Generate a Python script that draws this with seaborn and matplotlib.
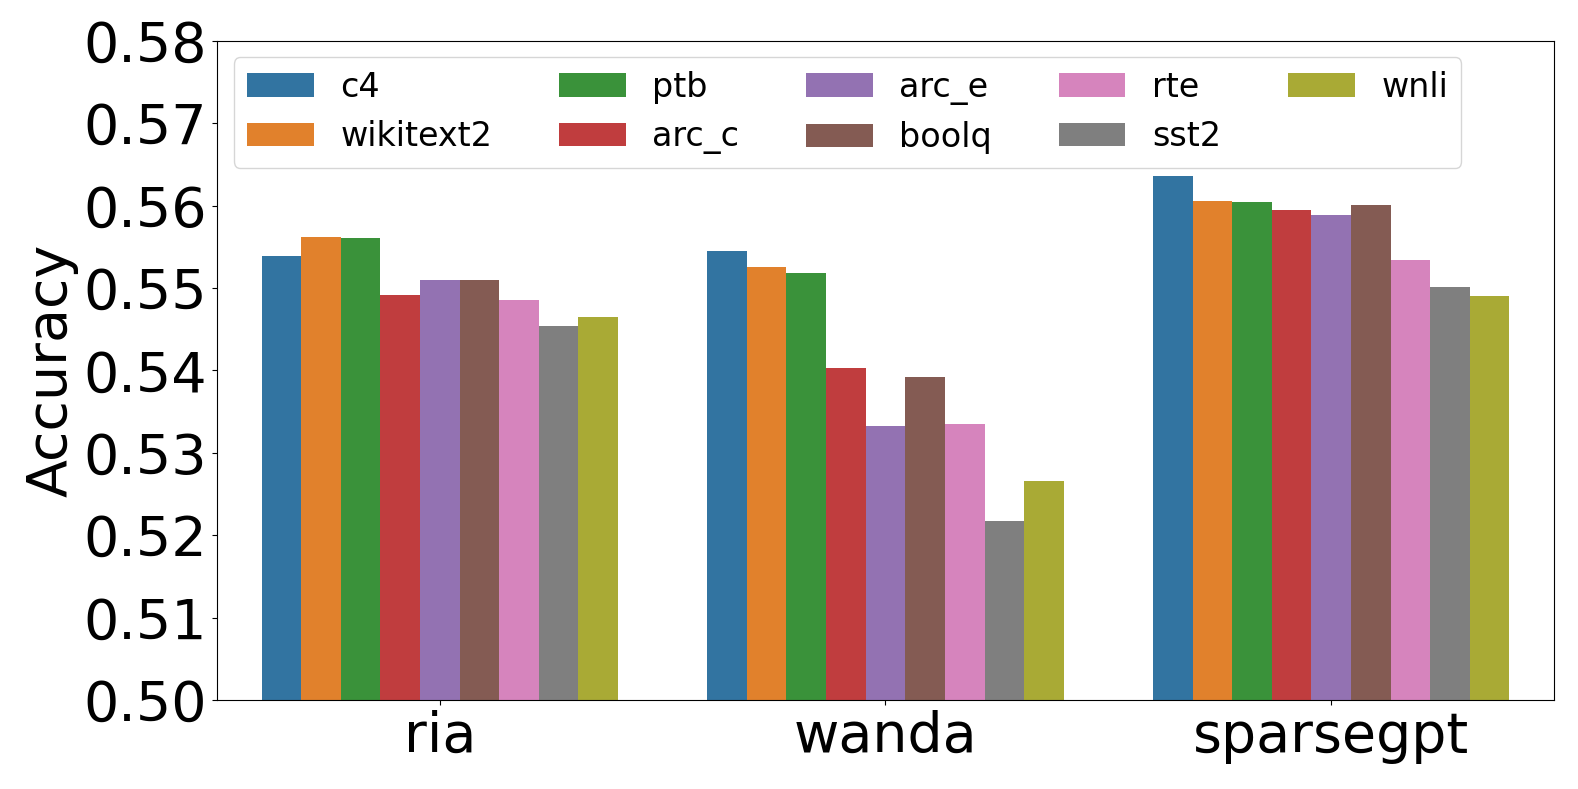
import matplotlib
matplotlib.use("Agg")
import matplotlib.pyplot as plt
import seaborn as sns
import pandas as pd

methods = ["ria", "wanda", "sparsegpt"]
datasets = ["c4", "wikitext2", "ptb", "arc_c", "arc_e", "boolq", "rte", "sst2", "wnli"]
ria_acc = [0.5539, 0.5562, 0.5561, 0.5491, 0.5510, 0.5510, 0.5485, 0.5454, 0.5465]
wanda_acc = [0.5545, 0.5526, 0.5518, 0.5403, 0.5333, 0.5392, 0.5335, 0.5217, 0.5266]
sparsegpt_acc = [0.5636, 0.5605, 0.5604, 0.5594, 0.5588, 0.5601, 0.5534, 0.5501, 0.5490]
yticks = [0.50, 0.51, 0.52, 0.53, 0.54, 0.55, 0.56, 0.57, 0.58]

rows = []
for m, vals in zip(methods, [ria_acc, wanda_acc, sparsegpt_acc]):
    for d, v in zip(datasets, vals):
        rows.append({"method": m, "dataset": d, "acc": v})
df = pd.DataFrame(rows)

fig = plt.figure(figsize=(15.78, 7.89), dpi=100)
ax = fig.add_axes([0.1375, 0.1128, 0.9848 - 0.1375, 0.9484 - 0.1128])
sns.barplot(data=df, x="method", y="acc", hue="dataset", order=methods,
            hue_order=datasets, palette="tab10", ax=ax)
ax.set_ylim(0.50, 0.58)
ax.set_yticks(yticks)
ax.set_yticklabels([f"{t:.2f}" for t in yticks])
ax.set_xlabel("")
ax.set_ylabel("Accuracy", fontsize=40)
ax.tick_params(axis="both", labelsize=40)
ax.legend(loc="upper left", ncol=5, fontsize=24)
fig.savefig("out.png", dpi=100)
